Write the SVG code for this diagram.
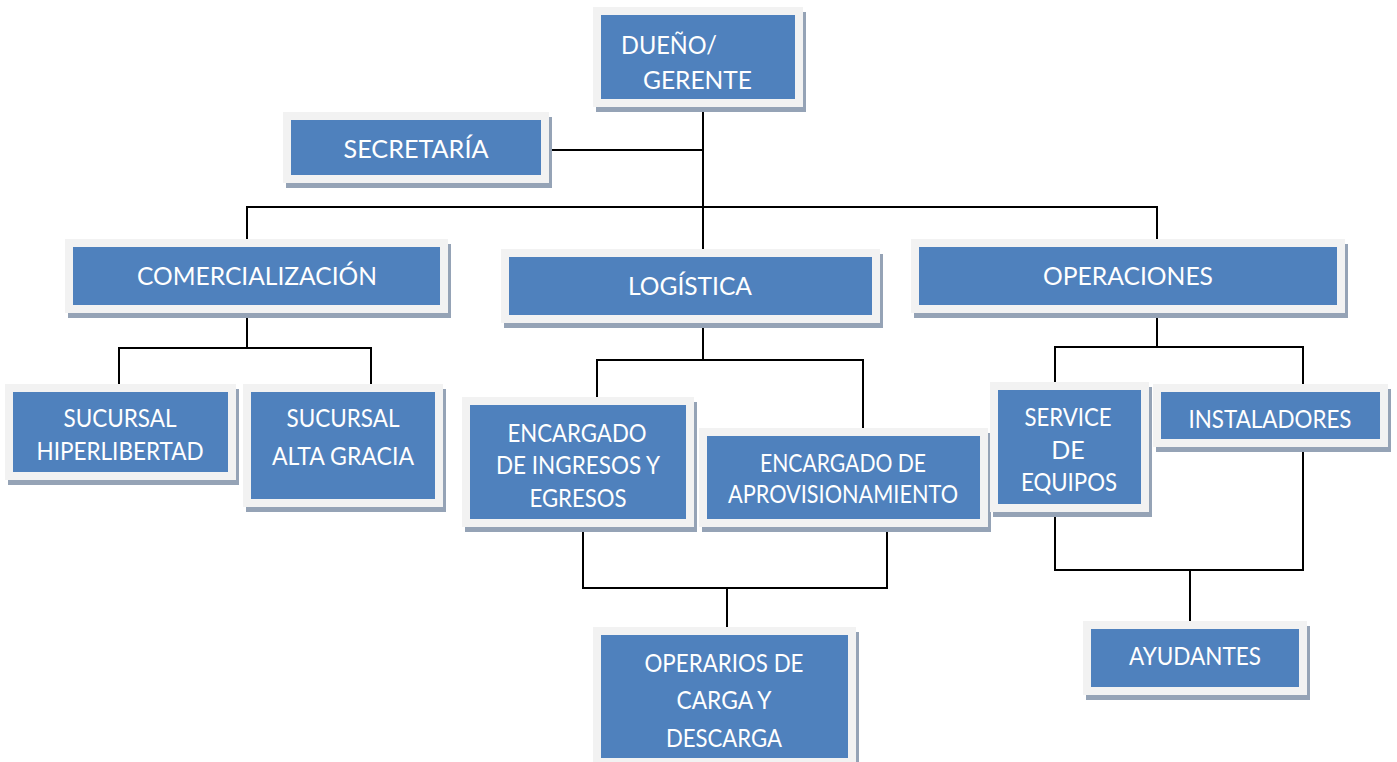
<svg xmlns="http://www.w3.org/2000/svg" width="1397" height="762" viewBox="0 0 1397 762">
<style>
.sh{fill:#95a3b6}
.fr{fill:#f2f2f2}
.bx{fill:#4f81bd}
.t{font-family:Lato,"Open Sans","Liberation Sans",sans-serif;font-size:25px;fill:#ffffff;text-anchor:middle}
.ts{font-family:Lato,"Open Sans","Liberation Sans",sans-serif;font-size:25px;fill:#ffffff}
.c{fill:none;stroke:#000;stroke-width:2}
</style>
<rect width="1397" height="762" fill="#ffffff"/>
<g id="connectors" class="c">
<path d="M703 110V249"/>
<path d="M548 150H703"/>
<path d="M247 239V207H1157V239"/>
<path d="M247 313V348"/>
<path d="M119 384V348H371V384"/>
<path d="M703 323V360"/>
<path d="M597 397V360H863V428"/>
<path d="M583 527V588H887V527"/>
<path d="M727 588V627"/>
<path d="M1157 313V347"/>
<path d="M1055 382V347H1303V384"/>
<path d="M1055 512V570H1303V447"/>
<path d="M1190 570V621"/>
</g>
<g id="n-dueno">
<rect class="sh" x="596" y="12" width="210" height="100"/>
<rect class="fr" x="593" y="7" width="210" height="100"/>
<rect class="bx" x="601" y="15" width="194" height="84"/>
<text class="ts" x="621" y="54" textLength="96" lengthAdjust="spacingAndGlyphs">DUEÑO/</text>
<text class="ts" x="643" y="89" textLength="109" lengthAdjust="spacingAndGlyphs">GERENTE</text>
</g>
<g id="n-secretaria">
<rect class="sh" x="286" y="117" width="266" height="71"/>
<rect class="fr" x="283" y="112" width="266" height="71"/>
<rect class="bx" x="291" y="120" width="250" height="55"/>
<text class="t" x="416" y="158" textLength="145" lengthAdjust="spacingAndGlyphs">SECRETARÍA</text>
</g>
<g id="n-comercializacion">
<rect class="sh" x="68" y="244" width="383" height="74"/>
<rect class="fr" x="65" y="239" width="383" height="74"/>
<rect class="bx" x="73" y="247" width="367" height="58"/>
<text class="t" x="257" y="285" textLength="240" lengthAdjust="spacingAndGlyphs">COMERCIALIZACIÓN</text>
</g>
<g id="n-logistica">
<rect class="sh" x="504" y="254" width="379" height="74"/>
<rect class="fr" x="501" y="249" width="379" height="74"/>
<rect class="bx" x="509" y="257" width="363" height="58"/>
<text class="t" x="690" y="295" textLength="124" lengthAdjust="spacingAndGlyphs">LOGÍSTICA</text>
</g>
<g id="n-operaciones">
<rect class="sh" x="914" y="244" width="434" height="74"/>
<rect class="fr" x="911" y="239" width="434" height="74"/>
<rect class="bx" x="919" y="247" width="418" height="58"/>
<text class="t" x="1128" y="285" textLength="170" lengthAdjust="spacingAndGlyphs">OPERACIONES</text>
</g>
<g id="n-hiperlibertad">
<rect class="sh" x="8" y="389" width="231" height="96"/>
<rect class="fr" x="5" y="384" width="231" height="96"/>
<rect class="bx" x="13" y="392" width="215" height="80"/>
<text class="t" x="120" y="427" textLength="113" lengthAdjust="spacingAndGlyphs">SUCURSAL</text>
<text class="t" x="120" y="460" textLength="167" lengthAdjust="spacingAndGlyphs">HIPERLIBERTAD</text>
</g>
<g id="n-altagracia">
<rect class="sh" x="246" y="389" width="200" height="123"/>
<rect class="fr" x="243" y="384" width="200" height="123"/>
<rect class="bx" x="251" y="392" width="184" height="107"/>
<text class="t" x="343" y="427" textLength="113" lengthAdjust="spacingAndGlyphs">SUCURSAL</text>
<text class="t" x="343" y="465" textLength="142" lengthAdjust="spacingAndGlyphs">ALTA GRACIA</text>
</g>
<g id="n-ingresos">
<rect class="sh" x="465" y="402" width="232" height="130"/>
<rect class="fr" x="462" y="397" width="232" height="130"/>
<rect class="bx" x="470" y="405" width="216" height="114"/>
<text class="t" x="577" y="442" textLength="139" lengthAdjust="spacingAndGlyphs">ENCARGADO</text>
<text class="t" x="578" y="474" textLength="164" lengthAdjust="spacingAndGlyphs">DE INGRESOS Y</text>
<text class="t" x="578" y="507" textLength="97" lengthAdjust="spacingAndGlyphs">EGRESOS</text>
</g>
<g id="n-aprovisionamiento">
<rect class="sh" x="702" y="433" width="289" height="99"/>
<rect class="fr" x="699" y="428" width="289" height="99"/>
<rect class="bx" x="707" y="436" width="273" height="83"/>
<text class="t" x="843" y="472" textLength="166" lengthAdjust="spacingAndGlyphs">ENCARGADO DE</text>
<text class="t" x="843" y="503" textLength="230" lengthAdjust="spacingAndGlyphs">APROVISIONAMIENTO</text>
</g>
<g id="n-operarios">
<rect class="sh" x="596" y="632" width="263" height="139"/>
<rect class="fr" x="593" y="627" width="263" height="139"/>
<rect class="bx" x="601" y="635" width="247" height="123"/>
<text class="t" x="724" y="672" textLength="159" lengthAdjust="spacingAndGlyphs">OPERARIOS DE</text>
<text class="t" x="724" y="709" textLength="95" lengthAdjust="spacingAndGlyphs">CARGA Y</text>
<text class="t" x="724" y="747" textLength="116" lengthAdjust="spacingAndGlyphs">DESCARGA</text>
</g>
<g id="n-service">
<rect class="sh" x="993" y="387" width="159" height="130"/>
<rect class="fr" x="990" y="382" width="159" height="130"/>
<rect class="bx" x="998" y="390" width="143" height="114"/>
<text class="t" x="1068" y="426" textLength="87" lengthAdjust="spacingAndGlyphs">SERVICE</text>
<text class="t" x="1068" y="459">DE</text>
<text class="t" x="1069" y="491" textLength="96" lengthAdjust="spacingAndGlyphs">EQUIPOS</text>
</g>
<g id="n-instaladores">
<rect class="sh" x="1156" y="389" width="235" height="63"/>
<rect class="fr" x="1153" y="384" width="235" height="63"/>
<rect class="bx" x="1161" y="392" width="219" height="47"/>
<text class="t" x="1270" y="428" textLength="163" lengthAdjust="spacingAndGlyphs">INSTALADORES</text>
</g>
<g id="n-ayudantes">
<rect class="sh" x="1086" y="626" width="224" height="74"/>
<rect class="fr" x="1083" y="621" width="224" height="74"/>
<rect class="bx" x="1091" y="629" width="208" height="58"/>
<text class="t" x="1195" y="665" textLength="132" lengthAdjust="spacingAndGlyphs">AYUDANTES</text>
</g>
</svg>
